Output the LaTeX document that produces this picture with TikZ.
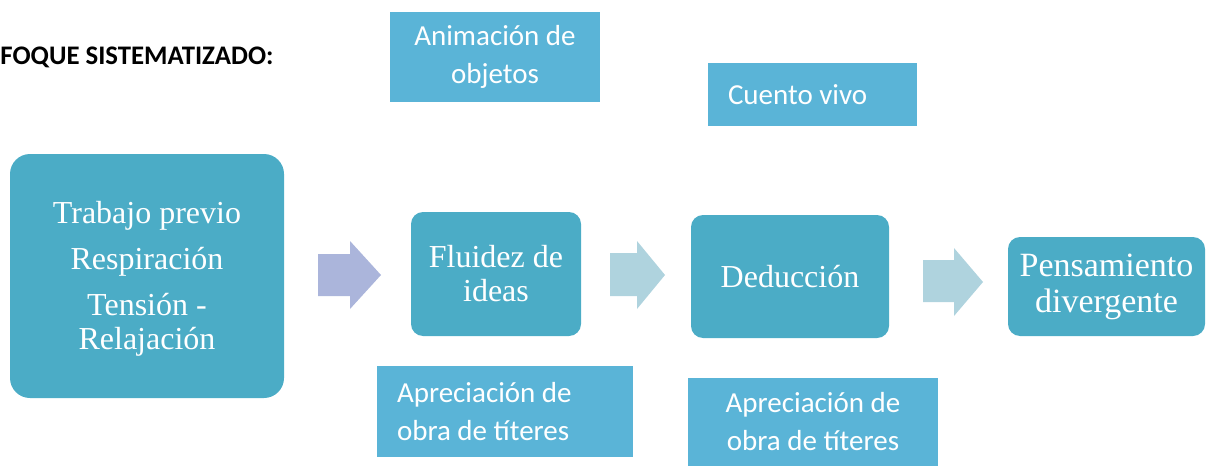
\documentclass[tikz,border=0pt]{standalone}
\usepackage{fontspec}
\usepackage{tikz}
\usepackage{xcolor}
\usetikzlibrary{
    shapes
}
\setmainfont{Liberation Serif}
\newfontfamily\calibri{Carlito}
\definecolor{stageteal}{HTML}{4BACC6}
\definecolor{extrablue}{HTML}{5AB4D7}
\definecolor{firstarrow}{HTML}{ABB5DB}
\definecolor{nextarrow}{HTML}{AFD3DE}

\begin{document}
\begin{tikzpicture}[x=0.5pt, y=-0.5pt,
    stage/.style={rounded corners=6pt, fill=stageteal, text=white, align=center, inner sep=0pt,
        font=\fontsize{16}{17}\selectfont},
    extra/.style={fill=extrablue, text=white, inner sep=0pt,
        font=\calibri\fontsize{14.5}{19}\selectfont}
    ]
            \useasboundingbox (0,0) rectangle (1211,466);

            \node[anchor=west, inner sep=0pt, font=\calibri\bfseries\fontsize{13.4}{15}\selectfont] (title) at (0,57) {FOQUE SISTEMATIZADO:};

            \node[stage, rounded corners=10pt, minimum width=137pt, minimum height=122pt] (previo) at (147,276)
                {\rule{0pt}{14pt}Trabajo previo\\[6pt]Respiración\\[6pt]Tensión -\\Relajación};
            \node[stage, minimum width=85pt, minimum height=62pt] (ideas) at (496,274) {Fluidez de\\ideas};
            \node[stage, minimum width=99pt, minimum height=61.5pt] (deduccion) at (790,276.5) {Deducción};
            \node[stage, minimum width=98.5pt, minimum height=49.5pt, font=\fontsize{17}{18}\selectfont] (divergente) at (1106.5,286.5)
                {Pensamiento\\divergente};

            \fill[firstarrow] (318,254) -- (350,254) -- (350,241) -- (381,275) -- (350,309) -- (350,296) -- (318,296) -- cycle;
            \fill[nextarrow] (610,253) -- (637,253) -- (637,241) -- (665,275) -- (637,309) -- (637,296) -- (610,296) -- cycle;
            \fill[nextarrow] (923,260) -- (954,260) -- (954,248) -- (983,282) -- (954,316) -- (954,302) -- (923,302) -- cycle;

            \node[extra, align=center, minimum width=105pt, minimum height=45pt] (animacion) at (495,57) {Animación de\\objetos};
            \node[extra, align=flush left, inner xsep=10pt, text width=84.5pt, minimum height=31.5pt] (cuento) at (812.5,94.5) {Cuento vivo};
            \node[extra, align=flush left, inner xsep=10pt, text width=108pt, minimum height=45.5pt] (apreciacion1) at (505,411.5)
                {Apreciación de\\obra de títeres};
            \node[extra, align=center, minimum width=125pt, minimum height=44pt] (apreciacion2) at (813,422)
                {Apreciación de\\obra de títeres};
\end{tikzpicture}
\end{document}
